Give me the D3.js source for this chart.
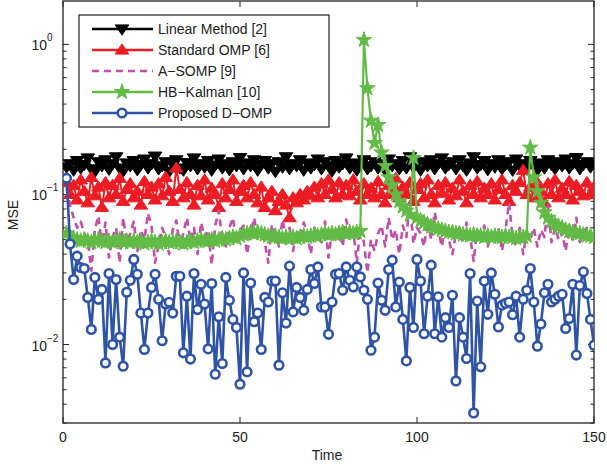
<!DOCTYPE html>
<html><head><meta charset="utf-8">
<script src="https://cdn.jsdelivr.net/npm/d3@7"></script>
<style>body{margin:0;background:#fff}svg{display:block}text{font-family:"Liberation Sans",Arial,sans-serif;fill:#222}</style>
</head><body><div id="chart"></div>
<script>
const seriesNames = ["Linear Method [2]", "Standard OMP [6]", "A\u2212SOMP [9]", "HB\u2212Kalman [10]", "Proposed D\u2212OMP"];
const xTicks = [0, 50, 100, 150];
const yTicks = [0.01, 0.1, 1];
const yTickExps = ["\u22122", "\u22121", "0"];

const linear = [0.152,0.16,0.145,0.168,0.15,0.158,0.175,0.148,0.142,0.165,
0.155,0.17,0.147,0.16,0.178,0.15,0.143,0.162,0.155,0.168,
0.146,0.158,0.172,0.15,0.16,0.18,0.148,0.155,0.165,0.142,
0.158,0.17,0.15,0.145,0.163,0.155,0.175,0.148,0.16,0.152,
0.168,0.145,0.157,0.172,0.15,0.16,0.146,0.165,0.155,0.176,
0.148,0.162,0.155,0.17,0.145,0.158,0.168,0.15,0.16,0.142,
0.165,0.152,0.178,0.148,0.16,0.155,0.17,0.145,0.162,0.15,
0.158,0.172,0.148,0.165,0.155,0.143,0.168,0.152,0.16,0.175,
0.15,0.162,0.145,0.158,0.17,0.148,0.155,0.165,0.15,0.16,
0.145,0.172,0.155,0.16,0.148,0.168,0.15,0.178,0.152,0.16,
0.145,0.165,0.155,0.17,0.148,0.16,0.175,0.15,0.158,0.165,
0.148,0.17,0.155,0.145,0.162,0.178,0.15,0.158,0.168,0.146,
0.16,0.152,0.17,0.148,0.158,0.165,0.145,0.172,0.155,0.16,
0.15,0.168,0.155,0.145,0.162,0.15,0.17,0.158,0.148,0.165,
0.155,0.172,0.15,0.16,0.176,0.148,0.158,0.165,0.152,0.16];

const stdOmp = [0.12,0.1,0.115,0.092,0.125,0.105,0.088,0.13,0.098,0.112,
0.082,0.12,0.095,0.115,0.1,0.128,0.09,0.108,0.118,0.095,
0.105,0.085,0.122,0.1,0.112,0.092,0.118,0.098,0.13,0.105,
0.09,0.15,0.108,0.095,0.12,0.1,0.085,0.115,0.098,0.125,
0.092,0.11,0.1,0.082,0.118,0.095,0.108,0.125,0.09,0.105,
0.115,0.095,0.12,0.1,0.088,0.112,0.082,0.095,0.105,0.078,
0.09,0.1,0.085,0.07,0.095,0.088,0.1,0.092,0.105,0.098,
0.112,0.095,0.118,0.1,0.125,0.108,0.095,0.12,0.1,0.115,
0.098,0.125,0.105,0.092,0.118,0.1,0.11,0.095,0.122,0.1,
0.088,0.115,0.1,0.128,0.095,0.112,0.1,0.12,0.09,0.108,
0.118,0.095,0.125,0.1,0.088,0.115,0.102,0.12,0.092,0.11,
0.098,0.125,0.105,0.088,0.115,0.1,0.122,0.095,0.11,0.1,
0.118,0.092,0.108,0.125,0.1,0.09,0.115,0.105,0.12,0.145,
0.1,0.112,0.095,0.12,0.105,0.088,0.118,0.1,0.125,0.095,
0.11,0.1,0.122,0.092,0.115,0.105,0.098,0.12,0.1,0.112];

const aSomp = [0.11,0.085,0.07,0.06,0.066,0.055,0.05,0.031,0.058,0.072,
0.045,0.065,0.038,0.052,0.06,0.035,0.07,0.048,0.055,0.066,
0.042,0.058,0.05,0.075,0.062,0.035,0.046,0.06,0.052,0.04,
0.058,0.067,0.045,0.055,0.07,0.049,0.06,0.04,0.065,0.052,
0.058,0.034,0.062,0.078,0.05,0.045,0.06,0.07,0.048,0.058,
0.062,0.04,0.055,0.07,0.05,0.058,0.048,0.035,0.063,0.055,
0.045,0.068,0.052,0.06,0.042,0.058,0.05,0.065,0.055,0.04,
0.06,0.052,0.048,0.066,0.038,0.057,0.05,0.06,0.045,0.068,
0.052,0.058,0.035,0.06,0.048,0.03,0.05,0.042,0.055,0.062,
0.045,0.07,0.05,0.058,0.04,0.062,0.052,0.09,0.047,0.06,
0.055,0.045,0.068,0.05,0.076,0.058,0.045,0.062,0.05,0.04,
0.055,0.06,0.048,0.065,0.052,0.036,0.058,0.05,0.062,0.045,
0.056,0.05,0.06,0.042,0.058,0.088,0.052,0.045,0.06,0.04,
0.055,0.05,0.06,0.045,0.058,0.052,0.085,0.048,0.06,0.05,
0.056,0.042,0.062,0.05,0.07,0.048,0.055,0.06,0.052,0.058];

const hbKalman = [0.055,0.052,0.051,0.05,0.049,0.05,0.049,0.048,0.049,0.05,
0.049,0.048,0.049,0.048,0.049,0.05,0.048,0.049,0.048,0.049,
0.048,0.049,0.047,0.048,0.049,0.048,0.047,0.048,0.049,0.048,
0.048,0.049,0.048,0.047,0.048,0.049,0.048,0.049,0.05,0.049,
0.049,0.05,0.049,0.05,0.051,0.05,0.051,0.052,0.051,0.053,
0.054,0.055,0.056,0.055,0.056,0.055,0.054,0.053,0.052,0.053,
0.052,0.051,0.052,0.051,0.052,0.051,0.052,0.053,0.052,0.053,
0.054,0.053,0.054,0.055,0.054,0.055,0.054,0.055,0.056,0.055,
0.056,0.055,0.056,0.057,
1.07,0.51,0.31,0.22,0.29,0.19,0.155,0.13,0.115,0.1,0.09,0.083,0.078,0.073,
0.175,
0.07,0.067,0.065,0.063,0.061,0.06,0.059,0.058,0.057,0.056,0.056,
0.055,0.055,0.054,0.054,0.053,0.054,0.053,0.053,0.052,0.053,
0.052,0.053,0.052,0.052,0.053,0.052,0.052,0.051,0.052,0.052,0.053,
0.205,0.13,0.105,0.088,0.076,0.07,0.066,0.063,0.061,
0.06,0.058,0.057,0.056,0.055,0.055,0.054,0.053,0.053,0.052];

const dOmp = [0.128,0.0467,0.0271,0.0388,0.0326,0.0321,0.0206,0.0126,0.028,0.02,
0.0233,0.00754,0.0297,0.01,0.0271,0.0112,0.00717,0.0223,0.0268,0.0369,
0.0294,0.0162,0.00927,0.0162,0.024,0.0294,0.02,0.0106,0.0186,0.0191,
0.0162,0.0285,0.0285,0.0088,0.021,0.008,0.0297,0.0171,0.0252,0.0186,
0.00935,0.0255,0.00634,0.0153,0.00747,0.028,0.0197,0.0147,0.013,0.00544,
0.030,0.00657,0.0257,0.0142,0.0162,0.00927,0.0206,0.0192,0.0265,0.0265,
0.00728,0.0221,0.0139,0.0333,0.0165,0.024,0.0206,0.0169,0.0233,0.0316,
0.0255,0.0329,0.0178,0.0178,0.0117,0.0192,0.0294,0.0297,0.023,0.0329,
0.0268,0.0242,0.0329,0.0282,0.023,0.02,0.00916,0.0112,0.0257,0.0197,
0.0169,0.0316,0.0365,0.0178,0.0261,0.0147,0.00778,0.024,
0.013,0.0369,0.0265,0.0118,0.021,0.0338,0.0118,0.0208,0.0112,0.0151,
0.013,0.0213,0.00572,0.0151,0.0112,0.00807,0.0297,0.0035,0.0195,0.0071,
0.0265,0.0159,0.030,0.0216,0.0131,0.0183,0.0188,0.0192,0.0158,0.021,
0.0112,0.02,0.023,0.0321,0.0192,0.00975,0.0137,0.0221,0.0252,0.0192,
0.02,0.021,0.0216,0.0128,0.0149,0.0252,0.0085,0.0247,0.0305,0.0219,
0.0147,0.0099];

const colors = ["#000000", "#ec1c24", "#c150aa", "#62bb46", "#2f54a5"];

const W = 607, H = 465;
const L = 63, R = 594, T = 1, B = 423;
const svg = d3.select("#chart").append("svg").attr("width", W).attr("height", H);
const x = d3.scaleLinear().domain([0, 150]).range([L, R]);
const y = d3.scaleLog().domain([0.003, 1.945]).range([B, T]);

svg.append("clipPath").attr("id", "clip").append("rect")
  .attr("x", L).attr("y", T).attr("width", R - L).attr("height", B - T);

const ax = svg.append("g");
ax.append("rect").attr("x", L).attr("y", T).attr("width", R - L).attr("height", B - T)
  .attr("fill", "none").attr("stroke", "#222").attr("stroke-width", 1.3);
const minor = [];
for (let e = -3; e <= 0; e++) for (let m = 1; m <= 9; m++) {
  const v = m * Math.pow(10, e);
  if (v >= 0.003 && v <= 1.945) minor.push({v, major: m === 1});
}
minor.forEach(d => {
  const len = d.major ? 6 : 3.5;
  ax.append("line").attr("x1", L).attr("x2", L + len).attr("y1", y(d.v)).attr("y2", y(d.v)).attr("stroke", "#222");
  ax.append("line").attr("x1", R).attr("x2", R - len).attr("y1", y(d.v)).attr("y2", y(d.v)).attr("stroke", "#222");
});
xTicks.forEach(t => {
  ax.append("line").attr("x1", x(t)).attr("x2", x(t)).attr("y1", B).attr("y2", B - 6).attr("stroke", "#222");
  ax.append("line").attr("x1", x(t)).attr("x2", x(t)).attr("y1", T).attr("y2", T + 6).attr("stroke", "#222");
  ax.append("text").attr("x", x(t)).attr("y", 442).attr("text-anchor", "middle").attr("font-size", 14).text(t);
});
yTicks.forEach((v, i) => {
  ax.append("text").attr("x", 47).attr("y", y(v) + 6).attr("text-anchor", "end").attr("font-size", 14).text("10");
  ax.append("text").attr("x", 47).attr("y", y(v) - 3).attr("font-size", 10).text(yTickExps[i]);
});
svg.append("text").attr("x", 327).attr("y", 460).attr("text-anchor", "middle").attr("font-size", 14).text("Time");
svg.append("text").attr("transform", "translate(18,215) rotate(-90)").attr("text-anchor", "middle").attr("font-size", 14).text("MSE");

const tri = 6.8;
function markerPath(type) {
  if (type === "down") return `M${-tri},${-tri*0.6} L${tri},${-tri*0.6} L0,${tri*0.9} Z`;
  if (type === "up") return `M${-tri},${tri*0.6} L${tri},${tri*0.6} L0,${-tri*0.9} Z`;
  if (type === "star") return d3.symbol().type(d3.symbolStar).size(75)();
  return null;
}

const series = [
  {name: seriesNames[0], data: linear, color: colors[0], marker: "down", dash: null, w: 2},
  {name: seriesNames[1], data: stdOmp, color: colors[1], marker: "up", dash: null, w: 2},
  {name: seriesNames[2], data: aSomp, color: colors[2], marker: null, dash: "7,5", w: 2.6},
  {name: seriesNames[3], data: hbKalman, color: colors[3], marker: "star", dash: null, w: 2.2},
  {name: seriesNames[4], data: dOmp, color: colors[4], marker: "circle", dash: null, w: 2.6}
];

const plot = svg.append("g").attr("clip-path", "url(#clip)");
const line = d3.line().x((d, i) => x(i + 1)).y(d => y(d));

series.forEach(s => {
  const g = plot.append("g");
  g.append("path").datum(s.data).attr("d", line).attr("fill", "none")
    .attr("stroke", s.color).attr("stroke-width", s.w)
    .attr("stroke-dasharray", s.dash).attr("stroke-linejoin", "round");
  if (s.marker === "circle") {
    g.selectAll("circle").data(s.data).join("circle")
      .attr("cx", (d, i) => x(i + 1)).attr("cy", d => y(d)).attr("r", 4.3)
      .attr("fill", "#fff").attr("stroke", s.color).attr("stroke-width", 2.6);
  } else if (s.marker) {
    g.selectAll("path.m").data(s.data).join("path").attr("class", "m")
      .attr("transform", (d, i) => `translate(${x(i + 1)},${y(d)})`)
      .attr("d", markerPath(s.marker)).attr("fill", s.color).attr("stroke", s.color).attr("stroke-width", 1);
  }
});

const lg = svg.append("g");
lg.append("rect").attr("x", 79).attr("y", 15).attr("width", 250).attr("height", 112)
  .attr("fill", "#fff").attr("stroke", "#222").attr("stroke-width", 1.2);
series.forEach((s, i) => {
  const cy = 29 + i * 21;
  lg.append("line").attr("x1", 92).attr("x2", 153).attr("y1", cy).attr("y2", cy)
    .attr("stroke", s.color).attr("stroke-width", s.dash ? 2.6 : 2.4).attr("stroke-dasharray", s.dash);
  if (s.marker === "circle") {
    lg.append("circle").attr("cx", 122).attr("cy", cy).attr("r", 4.3).attr("fill", "#fff").attr("stroke", s.color).attr("stroke-width", 2.6);
  } else if (s.marker) {
    lg.append("path").attr("transform", `translate(122,${cy})`).attr("d", markerPath(s.marker)).attr("fill", s.color).attr("stroke", s.color);
  }
  lg.append("text").attr("x", 158).attr("y", cy + 5).attr("font-size", 14).text(s.name);
});
</script></body></html>
